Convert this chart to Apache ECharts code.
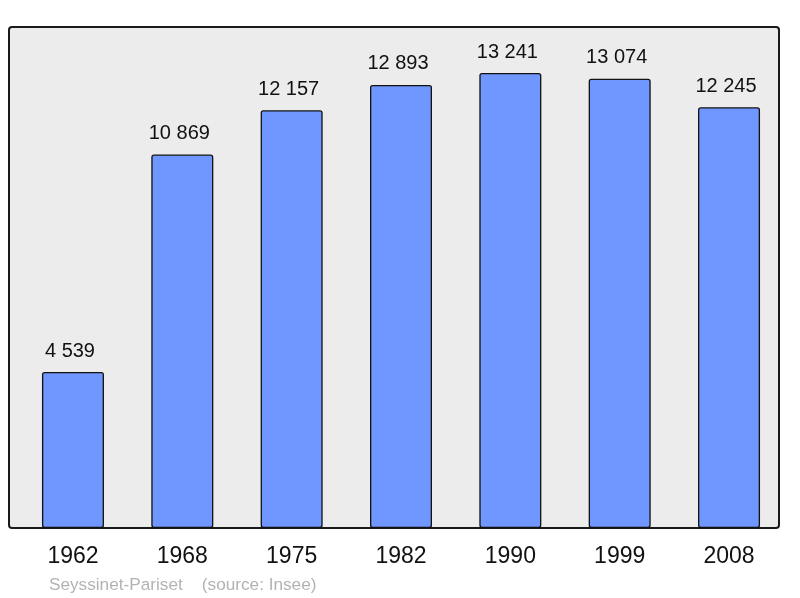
<!DOCTYPE html>
<html><head><meta charset="utf-8">
<script src="https://cdn.jsdelivr.net/npm/echarts@6/dist/echarts.min.js"></script>
<style>html,body{margin:0;padding:0;background:#fff}#c{width:800px;height:598px}</style>
</head><body><div id="c"></div>
<script>
const years = ['1962','1968','1975','1982','1990','1999','2008'];
const population = [4539, 10869, 12157, 12893, 13241, 13074, 12245];
const footer = 'Seyssinet-Pariset    (source: Insee)';

const chart = echarts.init(document.getElementById('c'), null, {renderer:'canvas'});
const fmt = v => String(v).replace(/\B(?=(\d{3})+(?!\d))/g, ' ');
chart.setOption({
  animation:false,
  textStyle:{fontFamily:'Liberation Sans'},
  grid:{left:18.3, right:16.3, top:27, bottom:70},
  graphic:[
    {type:'rect', z:-10, shape:{x:9, y:27, width:770, height:501, r:3},
     style:{fill:'#ececec', stroke:'#1a1a1a', lineWidth:2}},
    {type:'text', z:10, style:{x:49, y:585, text:footer, fill:'#b3b3b3', verticalAlign:'middle',
      font:'17.2px "Liberation Sans"'}}
  ],
  xAxis:{type:'category', data:years,
    axisLine:{show:false}, axisTick:{show:false},
    axisLabel:{color:'#111', fontSize:23, margin:17, fontFamily:'Liberation Sans'}},
  yAxis:{type:'value', min:0, max:14580, show:false, splitLine:{show:false}},
  series:[{type:'bar', data:population, barWidth:62,
    itemStyle:{color:'#7096ff', borderColor:'#111', borderWidth:1.3, borderRadius:2},
    label:{show:true, position:'top', distance:11, offset:[-3,0], color:'#111', fontSize:20,
      fontFamily:'Liberation Sans', formatter:p=>fmt(p.value)}}]
});
</script></body></html>
